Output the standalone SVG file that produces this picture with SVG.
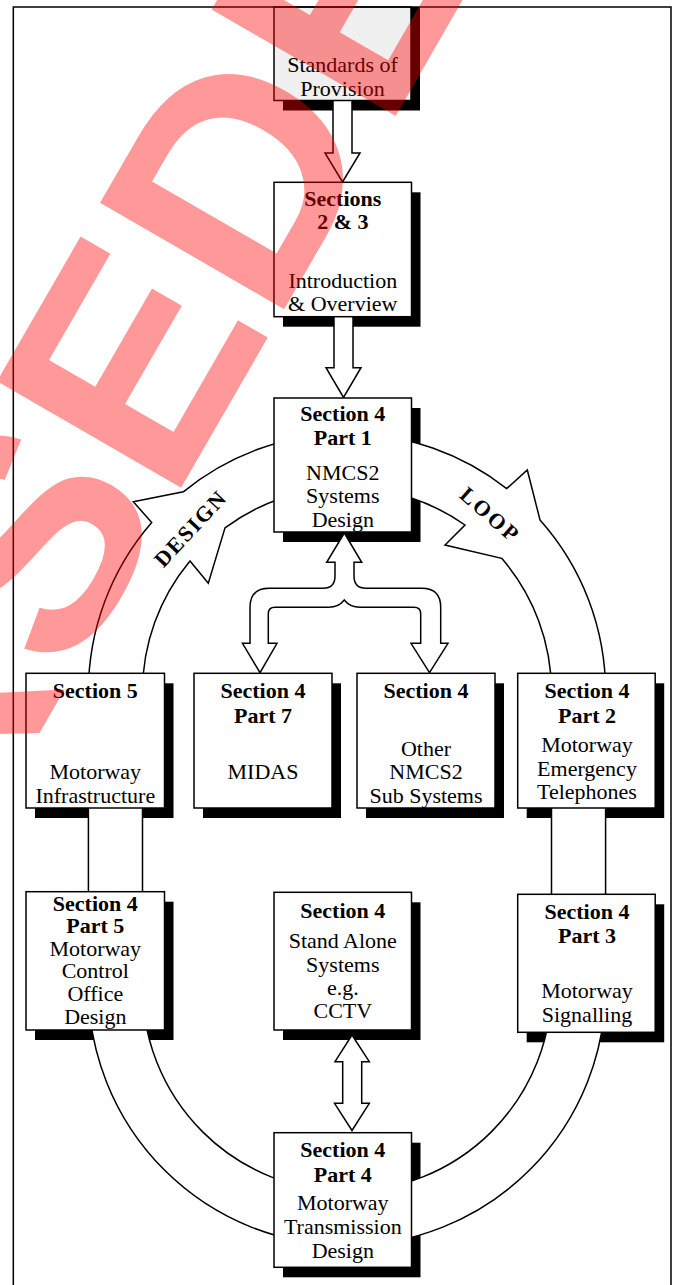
<svg xmlns="http://www.w3.org/2000/svg" width="674" height="1285" viewBox="0 0 674 1285">
<style>
.box{fill:#fff;stroke:#000;stroke-width:1.5}
.grey{fill:#f0f0f0}
.sh{fill:#000}
.t{font-family:"Liberation Serif","Times New Roman",serif;font-size:22px;text-anchor:middle;fill:#000}
.b{font-weight:bold}
.conn{fill:#fff;stroke:#000;stroke-width:1.5;stroke-linejoin:miter}
.lbl{font-family:"Liberation Serif","Times New Roman",serif;font-size:22px;font-weight:bold;text-anchor:middle;fill:#000}
.wm{font-family:"Liberation Sans",Arial,sans-serif;font-weight:bold;font-size:309px;fill:#ff0000;fill-opacity:0.4;font-kerning:none}
</style>
<rect width="674" height="1285" fill="#fff"/>
<g id="shadows">
<rect class="sh" x="283" y="7" width="137" height="103.5"/>
<rect class="sh" x="283" y="192.3" width="137.5" height="134.4"/>
<rect class="sh" x="283" y="408" width="137.5" height="134"/>
<rect class="sh" x="35" y="683.3" width="138.5" height="134.7"/>
<rect class="sh" x="203" y="683.3" width="138" height="134.7"/>
<rect class="sh" x="366" y="683.3" width="138" height="134.7"/>
<rect class="sh" x="526.7" y="683.3" width="137.5" height="134.7"/>
<rect class="sh" x="35" y="901.7" width="138.5" height="138.3"/>
<rect class="sh" x="283" y="902.3" width="137.5" height="137.7"/>
<rect class="sh" x="526.7" y="904.3" width="137.5" height="138"/>
<rect class="sh" x="283" y="1142.7" width="137.5" height="134.6"/>
</g>
<g id="connectors">
<path class="conn" fill-rule="evenodd" d="M88.4,987 L88.4,692 A258.6,258.6 0 0 1 151.7,522.5 L133.3,501.7 L183.3,491.8 A258.6,258.6 0 0 1 506.7,488.6 L527.3,470 L540,519.9 A258.6,258.6 0 0 1 605.6,692 L605.6,987 A258.6,258.6 0 0 1 88.4,987 Z M142.5,987 L142.5,692 A204.5,204.5 0 0 1 190,561 L208.3,583.3 L225,527.9 A204.5,204.5 0 0 1 465,525 L445,545 L501.7,558.3 A204.5,204.5 0 0 1 551.5,692 L551.5,987 A204.5,204.5 0 0 1 142.5,987 Z"/>
<text class="lbl" transform="translate(190 529.2) rotate(-47)" x="1" y="7.3" letter-spacing="1.9">DESIGN</text>
<text class="lbl" transform="translate(489.2 514.3) rotate(41.3)" x="1.2" y="7.3" letter-spacing="2.4">LOOP</text>
<path class="conn" d="M333,100.5 L333,153 L325,153 L342.5,182 L360,153 L352,153 L352,100.5"/>
<path class="conn" d="M334,316.7 L334,367.7 L326,367.7 L343.5,397.5 L361,367.7 L353,367.7 L353,316.7"/>
<path class="conn" d="M344.3,533 L361.7,562.3 L354,562.3 L354,576 Q354,588.3 366,588.3 L421.7,588.3 Q440.7,588.3 440.7,607.3 L440.7,643.3 L448,643.3 L429.5,672.7 L411,643.3 L420.7,643.3 L420.7,614 Q420.7,607.3 414,607.3 L360,607.3 Q350,607.3 344.3,600 Q338.6,607.3 328.6,607.3 L275,607.3 Q268.3,607.3 268.3,614 L268.3,643.3 L277,643.3 L260,672.7 L242.5,643.3 L250,643.3 L250,607.3 Q250,588.3 269,588.3 L323,588.3 Q335,588.3 335,576 L335,562.3 L326.7,562.3 Z"/>
<path class="conn" d="M352,1035 L369.3,1061.7 L361.7,1061.7 L361.7,1103.3 L369.3,1103.3 L352,1130.5 L334.5,1103.3 L342.7,1103.3 L342.7,1061.7 L335,1061.7 Z"/>
</g>
<g id="n-standards">
<rect class="box grey" x="274" y="7" width="137" height="93.5"/>
<text class="t" x="342.5" y="72">Standards of</text>
<text class="t" x="342.5" y="95.5">Provision</text>
</g>
<g id="n-sections23">
<rect class="box" x="274" y="182.3" width="137.5" height="134.4"/>
<text class="t b" x="342.8" y="205.7">Sections</text>
<text class="t b" x="342.8" y="229.3">2 &amp; 3</text>
<text class="t" x="342.8" y="288.3">Introduction</text>
<text class="t" x="342.8" y="311">&amp; Overview</text>
</g>
<g id="n-s4p1">
<rect class="box" x="274" y="398" width="137.5" height="134"/>
<text class="t b" x="342.8" y="420.7">Section 4</text>
<text class="t b" x="342.8" y="445">Part 1</text>
<text class="t" x="342.8" y="480">NMCS2</text>
<text class="t" x="342.8" y="503.3">Systems</text>
<text class="t" x="342.8" y="527.3">Design</text>
</g>
<g id="n-s5">
<rect class="box" x="26" y="673.3" width="138.5" height="134.7"/>
<text class="t b" x="95.3" y="698.3">Section 5</text>
<text class="t" x="95.3" y="778.5">Motorway</text>
<text class="t" x="95.3" y="802.7">Infrastructure</text>
</g>
<g id="n-s4p7">
<rect class="box" x="194" y="673.3" width="138" height="134.7"/>
<text class="t b" x="263" y="698.3">Section 4</text>
<text class="t b" x="263" y="723.3">Part 7</text>
<text class="t" x="263" y="779.3">MIDAS</text>
</g>
<g id="n-s4other">
<rect class="box" x="357" y="673.3" width="138" height="134.7"/>
<text class="t b" x="426" y="698.3">Section 4</text>
<text class="t" x="426" y="756">Other</text>
<text class="t" x="426" y="779.3">NMCS2</text>
<text class="t" x="426" y="802.7">Sub Systems</text>
</g>
<g id="n-s4p2">
<rect class="box" x="517.7" y="673.3" width="137.5" height="134.7"/>
<text class="t b" x="587" y="698.3">Section 4</text>
<text class="t b" x="587" y="723.3">Part 2</text>
<text class="t" x="587" y="752">Motorway</text>
<text class="t" x="587" y="775.5">Emergency</text>
<text class="t" x="587" y="799">Telephones</text>
</g>
<g id="n-s4p5">
<rect class="box" x="26" y="891.7" width="138.5" height="138.3"/>
<text class="t b" x="95.3" y="910.5">Section 4</text>
<text class="t b" x="95.3" y="933">Part 5</text>
<text class="t" x="95.3" y="955.5">Motorway</text>
<text class="t" x="95.3" y="978">Control</text>
<text class="t" x="95.3" y="1001">Office</text>
<text class="t" x="95.3" y="1024">Design</text>
</g>
<g id="n-s4standalone">
<rect class="box" x="274" y="892.3" width="137.5" height="137.7"/>
<text class="t b" x="342.8" y="917.7">Section 4</text>
<text class="t" x="342.8" y="947.7">Stand Alone</text>
<text class="t" x="342.8" y="971.7">Systems</text>
<text class="t" x="342.8" y="995">e.g.</text>
<text class="t" x="342.8" y="1018.3">CCTV</text>
</g>
<g id="n-s4p3">
<rect class="box" x="517.7" y="894.3" width="137.5" height="138"/>
<text class="t b" x="587" y="919.3">Section 4</text>
<text class="t b" x="587" y="943.3">Part 3</text>
<text class="t" x="587" y="998.3">Motorway</text>
<text class="t" x="587" y="1021.7">Signalling</text>
</g>
<g id="n-s4p4">
<rect class="box" x="274" y="1132.7" width="137.5" height="134.6"/>
<text class="t b" x="342.8" y="1157.3">Section 4</text>
<text class="t b" x="342.8" y="1181.7">Part 4</text>
<text class="t" x="342.8" y="1210">Motorway</text>
<text class="t" x="342.8" y="1234">Transmission</text>
<text class="t" x="342.8" y="1257.7">Design</text>
</g>
<path id="frame" d="M13.3,1290 L13.3,7 L671,7 L671,1290" fill="none" stroke="#000" stroke-width="1.5"/>
<text class="wm" transform="translate(-464.6 1606) rotate(-60)">SUPERSEDED</text>
</svg>
